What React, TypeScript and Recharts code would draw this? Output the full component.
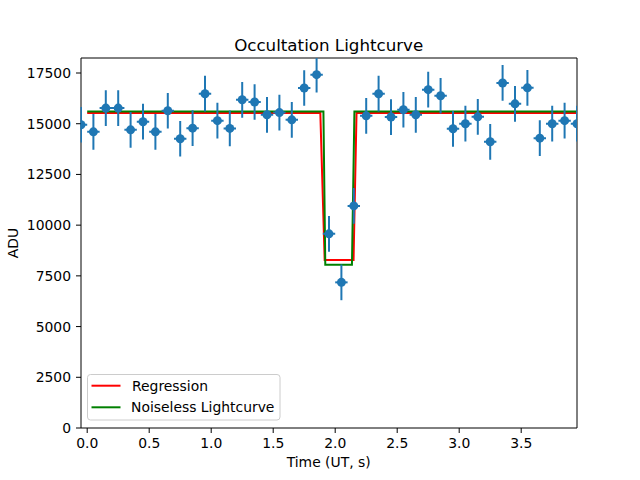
import React from 'react';
import { ComposedChart, Line, Scatter, XAxis, YAxis, ErrorBar, ReferenceArea, Legend } from 'recharts';

const times = [-0.05, 0.05, 0.15, 0.25, 0.35, 0.45, 0.55, 0.65, 0.75, 0.85, 0.95, 1.05, 1.15, 1.25, 1.35, 1.45, 1.55, 1.65, 1.75, 1.85, 1.95, 2.05, 2.15, 2.25, 2.35, 2.45, 2.55, 2.65, 2.75, 2.85, 2.95, 3.05, 3.15, 3.25, 3.35, 3.45, 3.55, 3.65, 3.75, 3.85, 3.95];
const flux = [14950, 14600, 15770, 15770, 14700, 15100, 14600, 15640, 14260, 14780, 16480, 15150, 14770, 16180, 16070, 15440, 15550, 15190, 16760, 17420, 9570, 7180, 10950, 15390, 16480, 15330, 15690, 15440, 16680, 16380, 14750, 15000, 15340, 14110, 17010, 15980, 16770, 14290, 15000, 15150, 15000];
const fluxErr = [880, 880, 880, 880, 880, 880, 880, 880, 880, 880, 880, 880, 880, 880, 880, 880, 880, 880, 880, 880, 880, 880, 880, 880, 880, 880, 880, 880, 880, 880, 880, 880, 880, 880, 880, 880, 880, 880, 880, 880, 880];
const timeErr = [0.05, 0.05, 0.05, 0.05, 0.05, 0.05, 0.05, 0.05, 0.05, 0.05, 0.05, 0.05, 0.05, 0.05, 0.05, 0.05, 0.05, 0.05, 0.05, 0.05, 0.05, 0.05, 0.05, 0.05, 0.05, 0.05, 0.05, 0.05, 0.05, 0.05, 0.05, 0.05, 0.05, 0.05, 0.05, 0.05, 0.05, 0.05, 0.05, 0.05, 0.05];

const regTime = [0, 1.88, 1.915, 2.148, 2.172, 3.95];
const regFlux = [15525, 15525, 8280, 8280, 15525, 15525];
const nlTime = [0, 1.905, 1.92, 2.135, 2.155, 3.95];
const nlFlux = [15605, 15605, 8050, 8050, 15605, 15605];

const xTicks = [0, 0.5, 1.0, 1.5, 2.0, 2.5, 3.0, 3.5];
const yTicks = [0, 2500, 5000, 7500, 10000, 12500, 15000, 17500];
const xDomain = [-0.05, 3.95];
const yDomain = [0, 18240];

const points = times.map((t, i) => ({ x: t, y: flux[i], ex: timeErr[i], ey: fluxErr[i] }));
const regData = regTime.map((t, i) => ({ x: t, y: regFlux[i] }));
const nlData = nlTime.map((t, i) => ({ x: t, y: nlFlux[i] }));

const FONT = 'DejaVu Sans';
const tickStyle = { fill: '#000', fontSize: 13.9, fontFamily: FONT };

const W = 640;
const H = 480;
const MARGIN = { top: 58, right: 63, bottom: 0, left: 0 };
const Y_AXIS_W = 81;
const X_AXIS_H = 52;
const plotLeft = MARGIN.left + Y_AXIS_W;
const plotTop = MARGIN.top;
const plotW = W - MARGIN.right - plotLeft;
const plotH = H - X_AXIS_H - plotTop;

const LegendBox = () => (
  <svg width={194} height={47} style={{ display: 'block' }}>
    <rect x={0.5} y={0.5} width={192.5} height={45.5} rx={3} ry={3} fill="rgba(255,255,255,0.8)" stroke="#cccccc" strokeWidth={1} />
    <line x1={4.5} x2={33.5} y1={11.7} y2={11.7} stroke="#ff0000" strokeWidth={2} />
    <text x={45} y={16.7} fontFamily={FONT} fontSize={13.9} fill="#000">Regression</text>
    <line x1={4.5} x2={33.5} y1={33.3} y2={33.3} stroke="#008000" strokeWidth={2} />
    <text x={44} y={38.3} fontFamily={FONT} fontSize={13.9} fill="#000">Noiseless Lightcurve</text>
  </svg>
);

export default function App() {
  return (
    <div style={{ position: 'absolute', left: 0, top: 0, width: W, height: H, background: '#fff' }}>
      <style>{`.lc-clip, .lc-clip .recharts-errorBar, .recharts-errorBar { clip-path: url(#lcPlotClip); }`}</style>
      <svg width={0} height={0} style={{ position: 'absolute' }}>
        <defs>
          <clipPath id="lcPlotClip" clipPathUnits="userSpaceOnUse">
            <rect x={plotLeft - 0.5} y={plotTop} width={plotW + 0.5} height={plotH} />
          </clipPath>
        </defs>
      </svg>
      <ComposedChart width={W} height={H} margin={MARGIN}>
        <XAxis
          type="number"
          dataKey="x"
          domain={xDomain}
          ticks={xTicks}
          allowDataOverflow
          height={X_AXIS_H}
          tickSize={5}
          tickMargin={5}
          tick={tickStyle}
          tickLine={{ stroke: '#000' }}
          axisLine={false}
          tickFormatter={(v: number) => v.toFixed(1)}
        />
        <YAxis
          type="number"
          dataKey="y"
          domain={yDomain}
          ticks={yTicks}
          allowDataOverflow
          width={Y_AXIS_W}
          tickSize={5}
          tickMargin={5}
          tick={tickStyle}
          tickLine={{ stroke: '#000' }}
          axisLine={false}
        />
        <Line data={regData} dataKey="y" type="linear" stroke="#ff0000" strokeWidth={2} dot={false} isAnimationActive={false} name="Regression" />
        <Line data={nlData} dataKey="y" type="linear" stroke="#008000" strokeWidth={2} dot={false} isAnimationActive={false} name="Noiseless Lightcurve" />
        <Scatter
          className="lc-clip"
          data={points}
          dataKey="y"
          fill="#1f77b4"
          isAnimationActive={false}
          shape={(p: any) => <circle className="lc-clip" cx={p.cx} cy={p.cy} r={4.5} fill="#1f77b4" />}
        >
          <ErrorBar dataKey="ey" direction="y" width={0} stroke="#1f77b4" strokeWidth={2} />
          <ErrorBar dataKey="ex" direction="x" width={0} stroke="#1f77b4" strokeWidth={2} />
        </Scatter>
        <ReferenceArea x1={xDomain[0]} x2={xDomain[1]} y1={yDomain[0]} y2={yDomain[1]} fill="none" stroke="#000" strokeWidth={1} fillOpacity={0} />
        <Legend
          layout="horizontal"
          verticalAlign="middle"
          align="center"
          wrapperStyle={{ left: 87, top: 374, width: 194, height: 47 }}
          content={() => <LegendBox />}
        />
      </ComposedChart>
      <svg width={W} height={H} style={{ position: 'absolute', left: 0, top: 0, pointerEvents: 'none' }}>
        <text x={328.7} y={50.5} textAnchor="middle" fontFamily={FONT} fontSize={16.7} fill="#000">Occultation Lightcurve</text>
        <text x={328.7} y={467} textAnchor="middle" fontFamily={FONT} fontSize={13.9} fill="#000">Time (UT, s)</text>
        <text x={17.5} y={243} textAnchor="middle" fontFamily={FONT} fontSize={13.9} fill="#000" transform="rotate(-90 17.5 243)">ADU</text>
      </svg>
    </div>
  );
}
